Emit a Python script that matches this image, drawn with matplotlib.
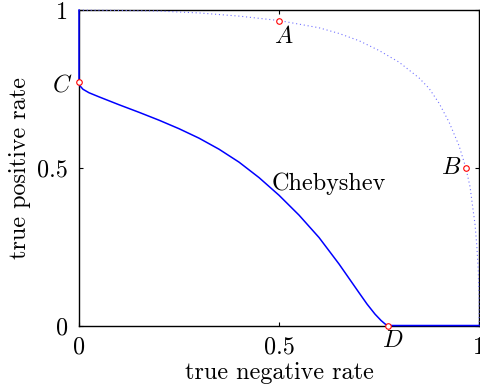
import matplotlib
matplotlib.use("Agg")
import matplotlib.pyplot as plt

plt.rcParams['font.family'] = ['cmr10', 'DejaVu Serif']
plt.rcParams['mathtext.fontset'] = 'cm'
plt.rcParams['axes.unicode_minus'] = False

# Chebyshev curve (true negative rate, true positive rate)
tnr_cheb = [0.0, 0.0, 0.003, 0.01, 0.025, 0.05, 0.1, 0.15, 0.2, 0.25, 0.3, 0.35,
            0.4, 0.45, 0.5, 0.55, 0.6, 0.65, 0.7, 0.72, 0.74, 0.755, 0.765, 0.772, 1.0]
tpr_cheb = [1.0, 0.771, 0.759, 0.749, 0.738, 0.725, 0.700, 0.676, 0.651, 0.624,
            0.594, 0.559, 0.518, 0.469, 0.413, 0.350, 0.279, 0.195, 0.104, 0.068,
            0.036, 0.016, 0.005, 0.0, 0.0]

# dotted curve
tnr_dot = [0.0, 0.1, 0.2, 0.3, 0.4, 0.5, 0.6, 0.65, 0.7, 0.75, 0.8, 0.85, 0.875,
           0.9, 0.925, 0.95, 0.967, 0.9775, 0.984, 0.99, 0.994, 0.998, 1.0, 1.0]
tpr_dot = [1.0, 0.999, 0.997, 0.991, 0.981, 0.967, 0.944, 0.926, 0.903, 0.872,
           0.835, 0.785, 0.752, 0.705, 0.645, 0.57, 0.5, 0.44, 0.377, 0.32, 0.26,
           0.18, 0.08, 0.0]

# marked points
pt_names = ['$A$', '$B$', '$C$', '$D$']
pt_x = [0.5, 0.967, 0.0, 0.772]
pt_y = [0.967, 0.5, 0.771, 0.0]
pt_off = [(5, -16), (-15, 0), (-17, -3), (5, -15)]

fs = 17.4

fig = plt.figure(figsize=(4.8, 3.89), dpi=100)
ax = fig.add_axes([0.1646, 0.1632, 0.8334, 0.8108])

ax.plot(tnr_dot, tpr_dot, color=(0.45, 0.45, 1.0), lw=0.8, linestyle=(0, (1, 2.5)), clip_on=False, zorder=3)
ax.plot(tnr_cheb, tpr_cheb, color='blue', lw=1.1, clip_on=False, zorder=4)
ax.plot(pt_x, pt_y, 'o', mfc='white', mec='red', ms=4, mew=0.8, clip_on=False, zorder=5)

for n, x, y, off in zip(pt_names, pt_x, pt_y, pt_off):
    ax.annotate(n, (x, y), xytext=off, textcoords='offset pixels',
                ha='center', va='center', fontsize=fs)

ax.text(0.482, 0.448, 'Chebyshev', ha='left', va='center', fontsize=fs)

ax.set_xlim(0, 1)
ax.set_ylim(0, 1)
ax.set_xticks([0, 0.5, 1])
ax.set_yticks([0, 0.5, 1])
ax.set_xticklabels(['0', '0.5', '1'], fontsize=fs)
ax.set_yticklabels(['0', '0.5', '1'], fontsize=fs)
ax.tick_params(direction='in', length=3, width=0.8, top=True, right=True, pad=8)
for s in ax.spines.values():
    s.set_linewidth(1.0)

ax.set_xlabel('true negative rate', fontsize=fs, labelpad=2)
ax.set_ylabel('true positive rate', fontsize=fs, labelpad=4)

fig.savefig('out.png', dpi=100)
